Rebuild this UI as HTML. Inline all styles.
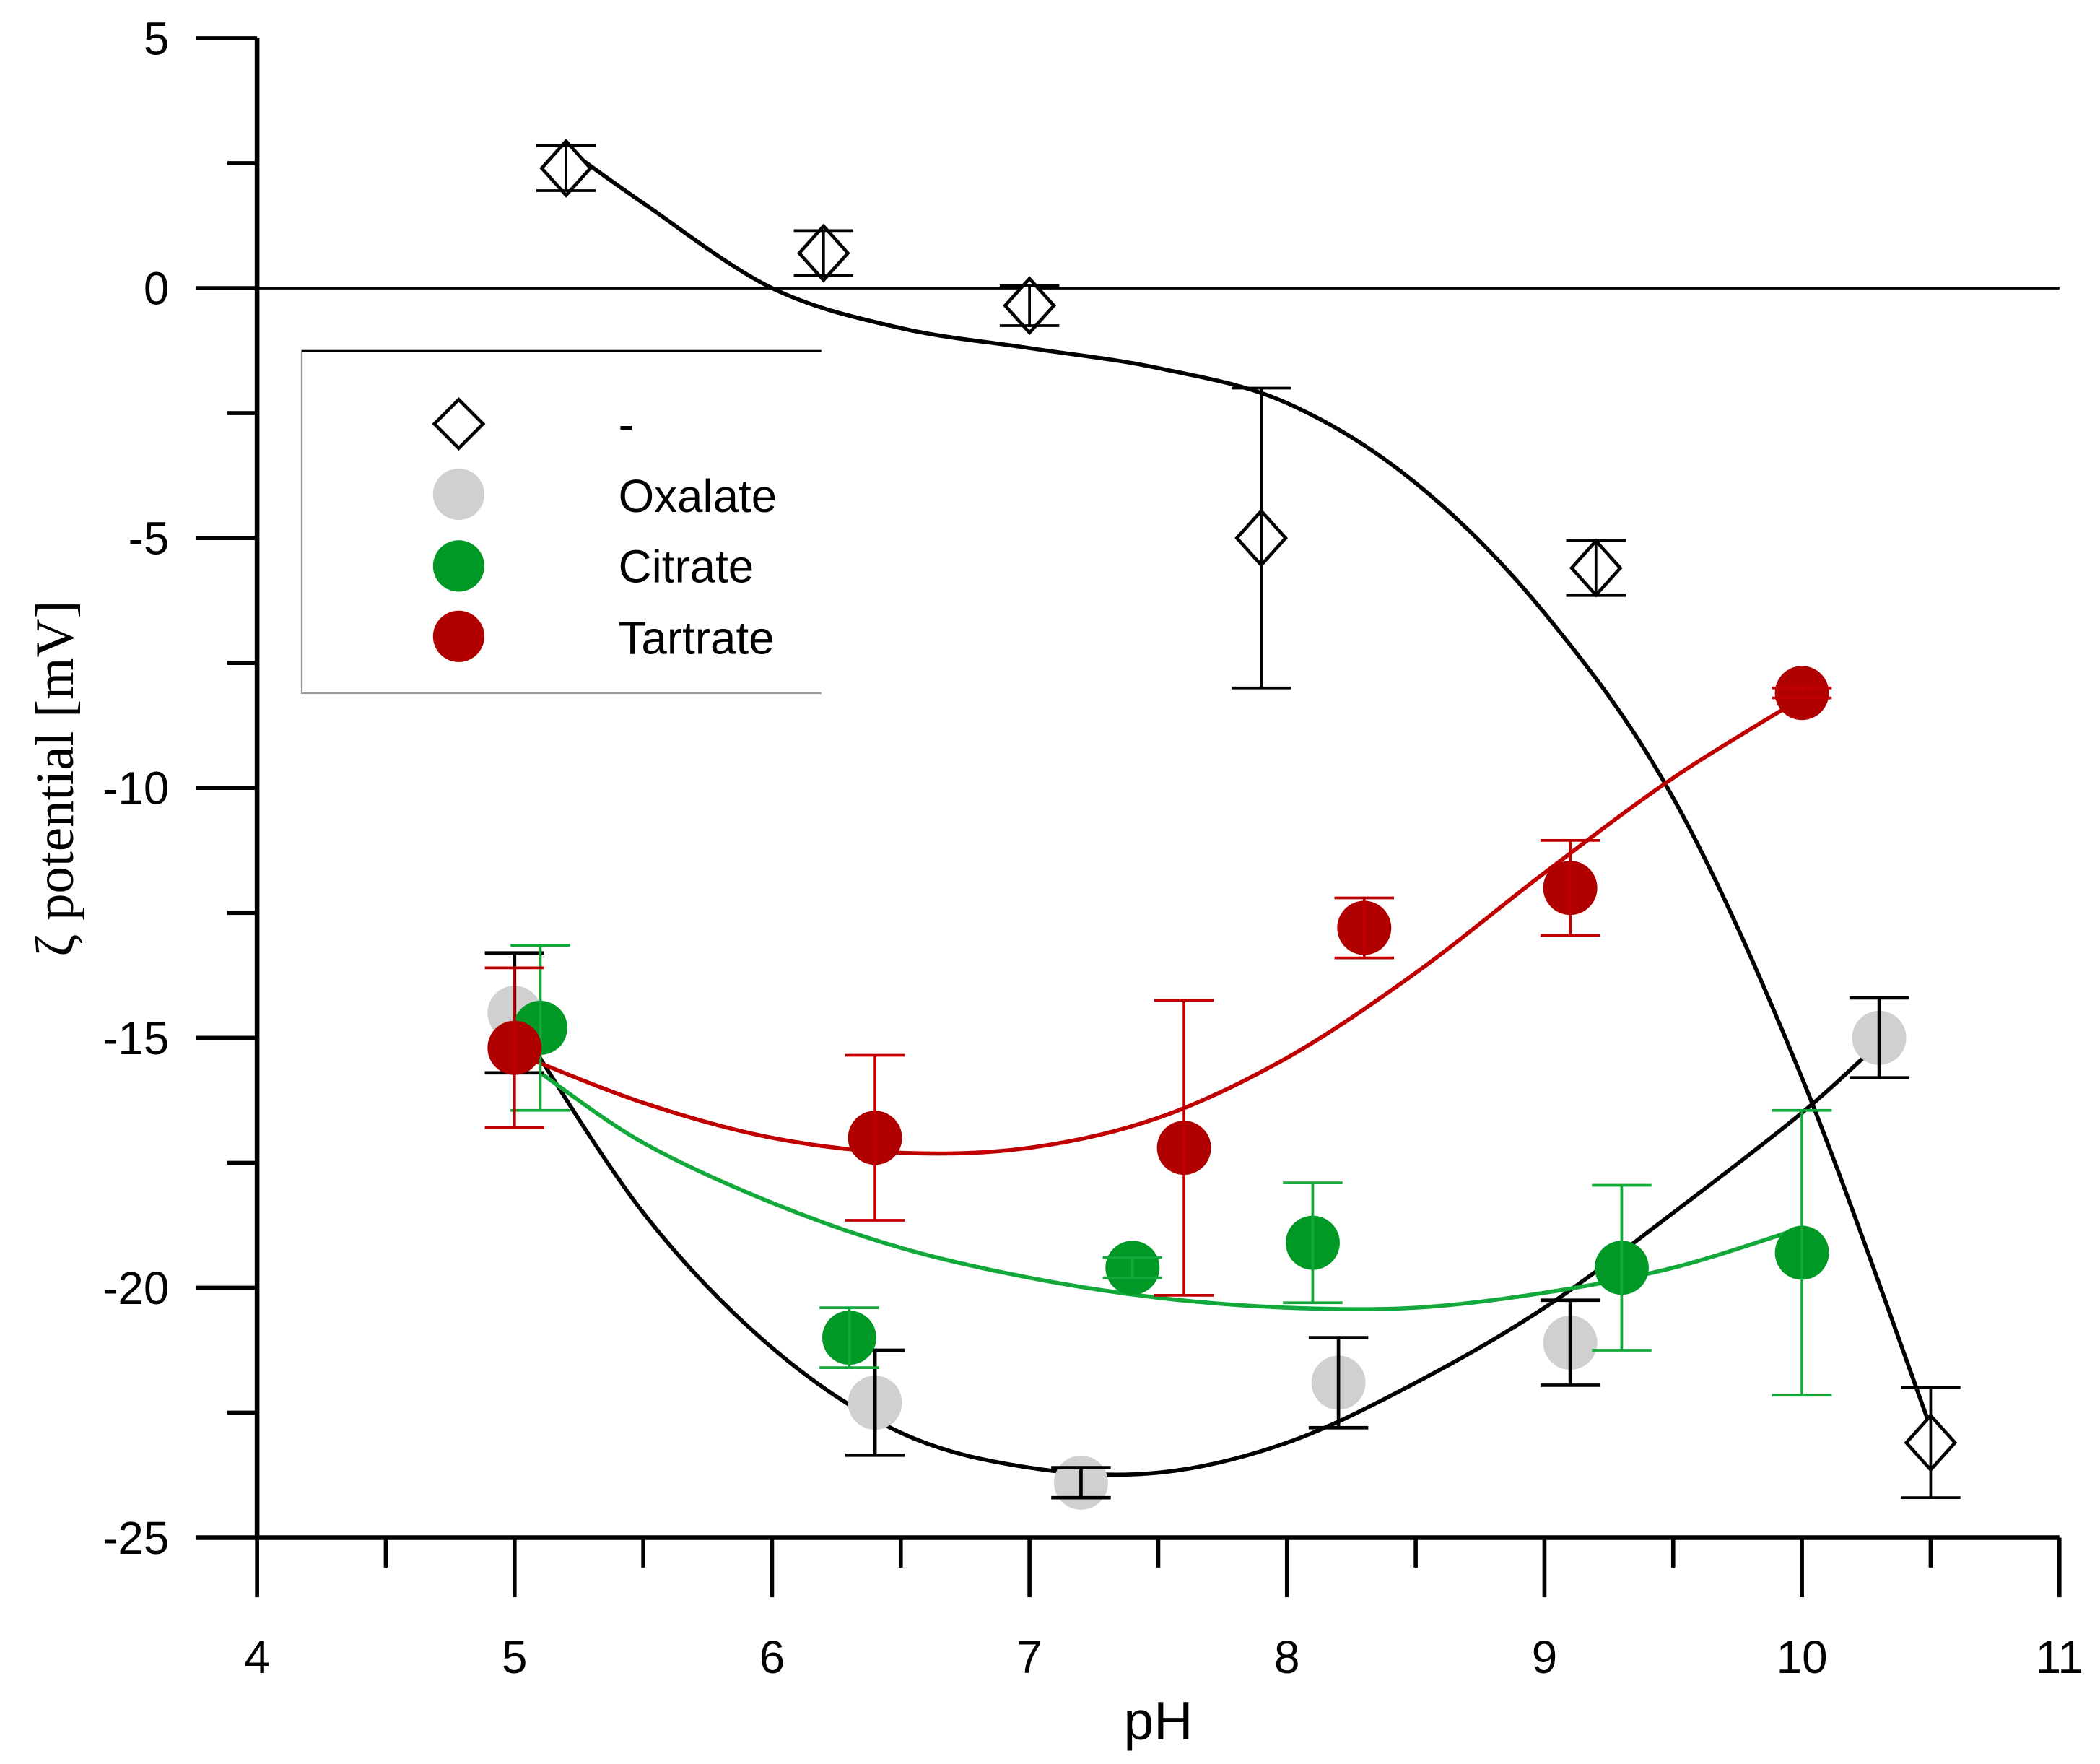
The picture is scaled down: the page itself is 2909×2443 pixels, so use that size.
<!DOCTYPE html>
<html><head><meta charset="utf-8"><style>
html,body{margin:0;padding:0;background:#fff}
svg{display:block}
text{font-family:"Liberation Sans",sans-serif}
</style></head><body>
<svg id="chart" width="2909" height="2443" viewBox="0 0 1552 1303" xmlns="http://www.w3.org/2000/svg">
<g id="axes"></g>
<g id="curves"></g>
<g id="marks"></g>
<g id="legend">
 <path d="M607,259 H223 V512 H607" fill="none" stroke="#999" stroke-width="1.2"/>
 <line x1="223" y1="259" x2="607" y2="259" stroke="#000" stroke-width="1.2"/>
 <polygon points="339,295 357,313 339,331 321,313" fill="#fff" stroke="#000" stroke-width="2.5"/>
 <text x="457" y="325" font-size="34">-</text>
 <circle cx="339" cy="365" r="19" fill="#d0d0d0"/>
 <text x="457" y="378" font-size="34">Oxalate</text>
 <circle cx="339" cy="418" r="19" fill="#009926"/>
 <text x="457" y="430" font-size="34">Citrate</text>
 <circle cx="339" cy="470" r="19" fill="#b00000"/>
 <text x="457" y="483" font-size="34">Tartrate</text>
</g>
<text x="856" y="1285" font-size="40" text-anchor="middle">pH</text>
<text transform="translate(54,575) rotate(-90)" font-size="40" text-anchor="middle" style="font-family:'Liberation Serif',serif">ζ potential [mV]</text>
</svg>
<script>
const xTicks=[4,5,6,7,8,9,10,11];
const yTicks=[5,0,-5,-10,-15,-20,-25];
// blank (no ligand)
const blankX=[5.2,6.2,7.0,7.9,9.2,10.5];
const blankY=[2.4,0.7,-0.35,-5.0,-5.6,-23.1];
const blankErr=[0.45,0.45,0.4,3.0,0.55,1.1];
const oxX=[5.0,6.4,7.2,8.2,9.1,10.3];
const oxY=[-14.5,-22.3,-23.9,-21.9,-21.1,-15.0];
const oxErr=[1.2,1.05,0.3,0.9,0.85,0.8];
const ciX=[5.1,6.3,7.4,8.1,9.3,10.0];
const ciY=[-14.8,-21.0,-19.6,-19.1,-19.6,-19.3];
const ciErr=[1.65,0.6,0.2,1.2,1.65,2.85];
const taX=[5.0,6.4,7.6,8.3,9.1,10.0];
const taY=[-15.2,-17.0,-17.2,-12.8,-12.0,-8.1];
const taErr=[1.6,1.65,2.95,0.6,0.95,0.1];
// fit curves
const blankFitX=[5.2,5.5,6.0,6.5,7.0,7.5,8.0,8.5,9.0,9.5,10.0,10.5];
const blankFitY=[2.8,1.7,0.0,-0.8,-1.2,-1.6,-2.3,-3.9,-6.5,-10.2,-15.8,-22.8];
const oxFitX=[5.0,5.5,6.0,6.5,7.0,7.5,8.0,8.5,9.0,9.5,10.0,10.3];
const oxFitY=[-14.6,-18.5,-21.2,-22.9,-23.6,-23.7,-23.1,-21.9,-20.4,-18.5,-16.5,-15.1];
const ciFitX=[5.1,5.5,6.0,6.5,7.0,7.5,8.0,8.5,9.0,9.5,10.0];
const ciFitY=[-15.7,-17.1,-18.3,-19.2,-19.8,-20.2,-20.4,-20.4,-20.1,-19.6,-18.8];
const taFitX=[5.0,5.5,6.0,6.5,7.0,7.5,8.0,8.5,9.0,9.5,10.0];
const taFitY=[-15.3,-16.3,-17.0,-17.3,-17.2,-16.6,-15.4,-13.7,-11.7,-9.8,-8.2];

const NS="http://www.w3.org/2000/svg";
function X(v){return 190+(v-4)*(1522-190)/7;}
function Y(v){return 212.7-v*36.93;}
function mk(tag,attrs,parent){const e=document.createElementNS(NS,tag);for(const k in attrs)e.setAttribute(k,attrs[k]);parent.appendChild(e);return e;}
const axes=document.getElementById('axes');
let e;
e=mk('line',{x1:190,y1:Y(5),x2:190,y2:Y(-25),stroke:'#000','stroke-width':3.5},axes);


e=mk('line',{x1:145,y1:Y(-25),x2:1522,y2:Y(-25),stroke:'#000','stroke-width':3.5},axes);


e=mk('line',{x1:145,y1:Y(0),x2:1522,y2:Y(0),stroke:'#000','stroke-width':2},axes);


yTicks.forEach(v=>{
 let t=mk('line',{x1:145,y1:Y(v),x2:190,y2:Y(v),stroke:'#000','stroke-width':3},axes);
 
 
 let l=mk('text',{x:125,y:Y(v)+12,'font-size':34,'text-anchor':'end'},axes);l.textContent=v;
 
 
 if(v>-25){let m=mk('line',{x1:168,y1:Y(v-2.5),x2:190,y2:Y(v-2.5),stroke:'#000','stroke-width':3},axes);
 
 }
});
xTicks.forEach(v=>{
 let t=mk('line',{x1:X(v),y1:Y(-25),x2:X(v),y2:1180,stroke:'#000','stroke-width':3},axes);
 
 
 let l=mk('text',{x:X(v),y:1236,'font-size':34,'text-anchor':'middle'},axes);l.textContent=v;
 
 
 if(v<11){let m=mk('line',{x1:X(v+0.5),y1:Y(-25),x2:X(v+0.5),y2:1158,stroke:'#000','stroke-width':3},axes);
 
 }
});
function smooth(xs,ys){
 const p=xs.map((x,i)=>[X(x),Y(ys[i])]);let d='M'+p[0][0]+','+p[0][1];
 for(let i=0;i<p.length-1;i++){const p0=p[i-1]||p[i],p1=p[i],p2=p[i+1],p3=p[i+2]||p2;
  d+=` C${p1[0]+(p2[0]-p0[0])/6},${p1[1]+(p2[1]-p0[1])/6} ${p2[0]-(p3[0]-p1[0])/6},${p2[1]-(p3[1]-p1[1])/6} ${p2[0]},${p2[1]}`;}
 return d;}
const curves=document.getElementById('curves');
[[blankFitX,blankFitY,'#000','blank-fit-curve'],[oxFitX,oxFitY,'#000','oxalate-fit-curve'],[ciFitX,ciFitY,'#13a83a','citrate-fit-curve'],[taFitX,taFitY,'#c00000','tartrate-fit-curve']].forEach(s=>{
 const c=mk('path',{d:smooth(s[0],s[1]),fill:'none',stroke:s[2],'stroke-width':3},curves);
 
 
});
const marks=document.getElementById('marks');
function errbar(x,y,err,col,w,name){
 const g=mk('g',{stroke:col,'stroke-width':w},marks);
 
 
 mk('line',{x1:X(x),y1:Y(y+err),x2:X(x),y2:Y(y-err)},g);
 mk('line',{x1:X(x)-22,y1:Y(y+err),x2:X(x)+22,y2:Y(y+err)},g);
 mk('line',{x1:X(x)-22,y1:Y(y-err),x2:X(x)+22,y2:Y(y-err)},g);
}
function circles(xs,ys,errs,col,ecol,ew,name){
 xs.forEach((x,i)=>{
  const c=mk('circle',{cx:X(x),cy:Y(ys[i]),r:20,fill:col},marks);
  
  
  errbar(x,ys[i],errs[i],ecol,ew,name+'-error-bar');
 });
}
circles(oxX,oxY,oxErr,'#d0d0d0','#000',2.5,'oxalate');
circles(ciX,ciY,ciErr,'#009926','#13a83a',2,'citrate');
circles(taX,taY,taErr,'#b00000','#c00000',2,'tartrate');
blankX.forEach((x,i)=>{
 const cx=X(x),cy=Y(blankY[i]);
 const p=mk('polygon',{points:`${cx},${cy-20} ${cx+18},${cy} ${cx},${cy+20} ${cx-18},${cy}`,fill:'#fff',stroke:'#000','stroke-width':2.5},marks);
 
 
 errbar(x,blankY[i],blankErr[i],'#000',2,'blank-error-bar');
});
</script>
</body></html>
